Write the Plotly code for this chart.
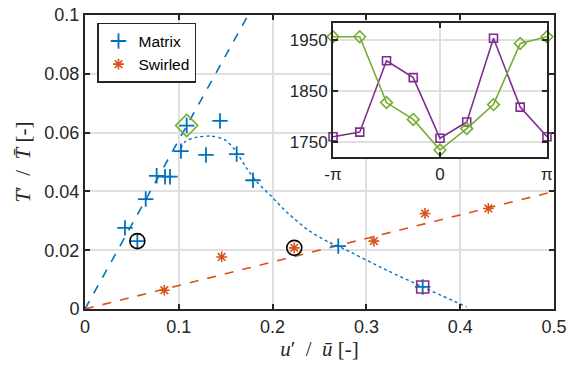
import math
import plotly.graph_objects as go

# ---- data ----
matrix_x = [0.0426, 0.0558, 0.0647, 0.0764, 0.0853, 0.0906, 0.1023, 0.1084, 0.1290, 0.1439, 0.1617, 0.1791, 0.270, 0.360]
matrix_y = [0.0276, 0.0231, 0.0374, 0.0453, 0.0450, 0.0450, 0.0537, 0.0624, 0.0524, 0.0640, 0.0527, 0.0438, 0.0214, 0.0075]

swirled_x = [0.0846, 0.1457, 0.2231, 0.308, 0.3625, 0.430]
swirled_y = [0.0064, 0.0177, 0.0208, 0.0231, 0.0325, 0.0342]

fit_matrix_x = [0.0, 0.174]
fit_matrix_y = [0.0, 0.100]
fit_swirled_x = [0.0, 0.5]
fit_swirled_y = [0.0, 0.040]

curve_x = [0.1023, 0.1066, 0.1173, 0.1351, 0.1493, 0.1599, 0.1724, 0.1831, 0.1990, 0.2167, 0.2381, 0.2594, 0.2719, 0.3216, 0.360, 0.4069]
curve_y = [0.0547, 0.0569, 0.0583, 0.0588, 0.0575, 0.0541, 0.0478, 0.0433, 0.0382, 0.0325, 0.0268, 0.0228, 0.0211, 0.0132, 0.0075, 0.0007]

circle_x = [0.0558, 0.2231]
circle_y = [0.0231, 0.0208]
diamond_pt = (0.1084, 0.0624)
square_pt = (0.360, 0.0075)

x_ticks = [0, 0.1, 0.2, 0.3, 0.4, 0.5]
x_ticklabels = ["0", "0.1", "0.2", "0.3", "0.4", "0.5"]
y_ticks = [0, 0.02, 0.04, 0.06, 0.08, 0.1]
y_ticklabels = ["0", "0.02", "0.04", "0.06", "0.08", "0.1"]

phase = [-math.pi * (1 - i / 4) for i in range(9)]
phase_ticks = [-math.pi, 0, math.pi]
phase_ticklabels = ["-π", "0", "π"]
inset_purple = [1760, 1769, 1909, 1876, 1757, 1789, 1953, 1818, 1760]
inset_green = [1956, 1956, 1827, 1794, 1734, 1776, 1823, 1943, 1956]
inset_yticks = [1750, 1850, 1950]

BLUE = "#0072BD"
ORANGE = "#D95319"
PURPLE = "#7E2F8E"
GREEN = "#77AC30"

fig = go.Figure()

fig.add_trace(go.Scatter(x=fit_matrix_x, y=fit_matrix_y, mode="lines",
                         line=dict(color=BLUE, dash="dash", width=1.6), showlegend=False))
fig.add_trace(go.Scatter(x=fit_swirled_x, y=fit_swirled_y, mode="lines",
                         line=dict(color=ORANGE, dash="dash", width=1.6), showlegend=False))
fig.add_trace(go.Scatter(x=curve_x, y=curve_y, mode="lines", line_shape="spline",
                         line=dict(color=BLUE, dash="dot", width=1.4, smoothing=0.8), showlegend=False))
fig.add_trace(go.Scatter(x=matrix_x, y=matrix_y, mode="markers", name="Matrix",
                         marker=dict(symbol="cross-thin-open", size=11, color=BLUE,
                                     line=dict(color=BLUE, width=1.8))))
fig.add_trace(go.Scatter(x=swirled_x, y=swirled_y, mode="markers", name="Swirled",
                         marker=dict(symbol="asterisk-open", size=9, color=ORANGE,
                                     line=dict(color=ORANGE, width=1.6))))
fig.add_trace(go.Scatter(x=circle_x, y=circle_y, mode="markers", showlegend=False,
                         marker=dict(symbol="circle-open", size=15, color="black",
                                     line=dict(color="black", width=1.6))))
fig.add_trace(go.Scatter(x=[diamond_pt[0]], y=[diamond_pt[1]], mode="markers", showlegend=False,
                         marker=dict(symbol="diamond-open", size=17, color=GREEN,
                                     line=dict(color=GREEN, width=1.6))))
fig.add_trace(go.Scatter(x=[square_pt[0]], y=[square_pt[1]], mode="markers", showlegend=False,
                         marker=dict(symbol="square-open", size=12, color=PURPLE,
                                     line=dict(color=PURPLE, width=1.6))))

# inset
fig.add_trace(go.Scatter(x=phase, y=inset_purple, mode="lines+markers", xaxis="x2", yaxis="y2",
                         showlegend=False, cliponaxis=False,
                         line=dict(color=PURPLE, width=1.6),
                         marker=dict(symbol="square-open", size=8, color=PURPLE,
                                     line=dict(color=PURPLE, width=1.6))))
fig.add_trace(go.Scatter(x=phase, y=inset_green, mode="lines+markers", xaxis="x2", yaxis="y2",
                         showlegend=False, cliponaxis=False,
                         line=dict(color=GREEN, width=1.6),
                         marker=dict(symbol="diamond-open", size=9, color=GREEN,
                                     line=dict(color=GREEN, width=1.6))))

SANS = "Liberation Sans, Arial, sans-serif"
axis_common = dict(showline=True, linecolor="#262626", linewidth=2, mirror="ticks",
                   ticks="inside", ticklen=5, tickwidth=2, tickcolor="#262626",
                   showgrid=True, gridcolor="#DFDFDF", gridwidth=2, zeroline=False,
                   automargin=False, ticklabeloverflow="allow",
                   tickfont=dict(family=SANS, size=18, color="#262626"))
inset_common = {**axis_common, "tickfont": dict(family=SANS, size=17, color="#262626")}

# page body has an 8px default margin, so the figure is sized to fit the window
fig.update_layout(
    width=567, height=357,
    margin=dict(l=77, r=21, t=7, b=56, autoexpand=False),
    paper_bgcolor="white", plot_bgcolor="white",
    xaxis=dict(range=[0, 0.5], tickvals=x_ticks, ticktext=x_ticklabels,
               domain=[0, 1],
               title=dict(text="<i>u</i>′  /  <i>u\u0304</i> [-]", standoff=6,
                          font=dict(family="Liberation Serif, serif", size=21, color="#262626")),
               **axis_common),
    yaxis=dict(range=[0, 0.1], tickvals=y_ticks, ticktext=y_ticklabels,
               domain=[0, 1],
               title=dict(text="<i>T</i>′  /  <i>T\u0304</i> [-]", standoff=8,
                          font=dict(family="Liberation Serif, serif", size=21, color="#262626")),
               **axis_common),
    xaxis2=dict(anchor="y2", domain=[0.5288, 0.985], range=[-math.pi, math.pi],
                tickvals=phase_ticks, ticktext=phase_ticklabels, **inset_common),
    yaxis2=dict(anchor="x2", domain=[0.5165, 0.9728], range=[1720, 1983],
                tickvals=inset_yticks, **inset_common),
    legend=dict(x=0.0256, y=0.973, xanchor="left", yanchor="top",
                bgcolor="white", bordercolor="#262626", borderwidth=1.5,
                font=dict(family=SANS, size=15.5, color="#000000"),
                tracegroupgap=0, itemwidth=30),
    showlegend=True,
)

fig.write_html("out.html")
